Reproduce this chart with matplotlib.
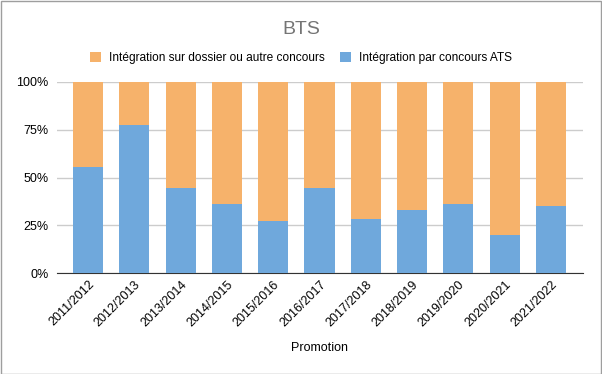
import matplotlib.pyplot as plt
from matplotlib.ticker import PercentFormatter
from matplotlib.patches import Rectangle

promotions = ['2011/2012', '2012/2013', '2013/2014', '2014/2015', '2015/2016',
              '2016/2017', '2017/2018', '2018/2019', '2019/2020', '2020/2021', '2021/2022']
concours_ats = [55.6, 77.6, 44.6, 36.3, 27.3, 44.6, 28.4, 33.2, 36.3, 20.1, 35.2]
dossier_autre = [100 - v for v in concours_ats]

plt.rcParams['font.family'] = ['Liberation Sans', 'DejaVu Sans']

fig = plt.figure(figsize=(6.02, 3.74), dpi=100)
ax = fig.add_axes([57 / 602, 1 - 273 / 374, 526 / 602, 191 / 374])

x = range(len(promotions))
ax.bar(x, concours_ats, width=0.65, color='#6fa8dc', label='Intégration par concours ATS', zorder=3)
ax.bar(x, dossier_autre, width=0.65, bottom=concours_ats, color='#f6b26b',
       label='Intégration sur dossier ou autre concours', zorder=3)

ax.set_xlim(-0.67, 10.69)
ax.set_ylim(0, 100)
ax.set_yticks([0, 25, 50, 75, 100])
ax.yaxis.set_major_formatter(PercentFormatter(decimals=0))
ax.grid(axis='y', color='#cccccc', linewidth=1, zorder=0)
ax.set_xticks(list(x))
ax.set_xticklabels(promotions, rotation=45, ha='right', rotation_mode='anchor', fontsize=9)
ax.tick_params(axis='y', length=0, labelsize=9, pad=6)
ax.tick_params(axis='x', length=0, pad=4)
for side in ['top', 'right', 'left']:
    ax.spines[side].set_visible(False)
ax.spines['bottom'].set_color('#333333')
ax.set_xlabel('Promotion', fontsize=9, labelpad=9)

handles, labels = ax.get_legend_handles_labels()
fig.legend(handles[::-1], labels[::-1], loc='center', bbox_to_anchor=(0.5, 1 - 58 / 374),
           ncol=2, frameon=False, fontsize=8.6, handlelength=0.9, handleheight=0.9,
           handletextpad=0.7, columnspacing=1.3)

fig.text(0.5, 1 - 29 / 374, 'BTS', ha='center', va='center', fontsize=14, color='#757575')

fig.patches.append(Rectangle((0.5 / 602, 0.5 / 374), 1 - 1.5 / 602, 1 - 1.5 / 374,
                             transform=fig.transFigure, fill=False, edgecolor='#9e9e9e', linewidth=1))

fig.savefig('out.png', dpi=100)
